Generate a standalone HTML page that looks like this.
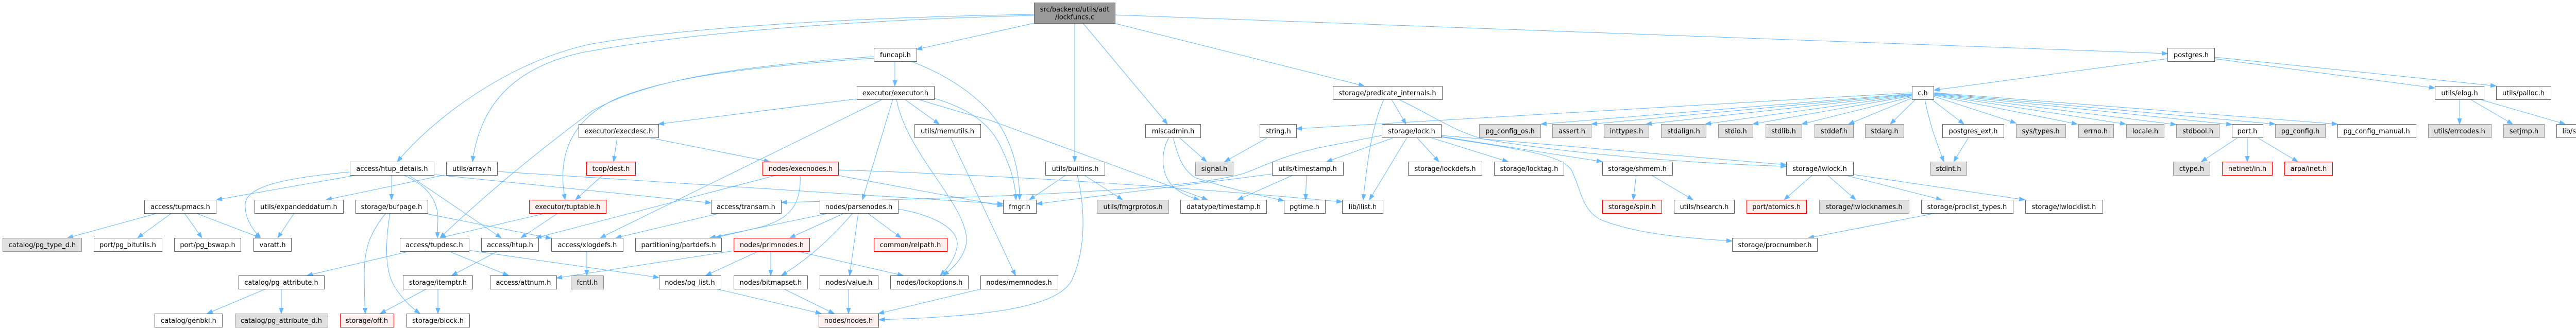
<!DOCTYPE html>
<html><head><meta charset="utf-8"><style>
html,body{margin:0;padding:0;background:#fff;}
svg{display:block;}
.n{fill:#fff;stroke:#666;stroke-width:1}
.g{fill:#e0e0e0;stroke:#999;stroke-width:1}
.r{fill:#fff0f0;stroke:#ff0000;stroke-width:1}
.o{fill:#999;stroke:#666;stroke-width:1}
text{font-family:"DejaVu Sans","Liberation Sans",sans-serif;font-size:12.9px;fill:#000;text-anchor:middle}
.E path{fill:none;stroke:#63b8ff;stroke-width:1;marker-end:url(#a)}
</style></head><body>
<svg width="5084" height="637" viewBox="0 0 5084 637" xmlns="http://www.w3.org/2000/svg">
<defs><marker id="a" markerWidth="12" markerHeight="9" refX="11" refY="4.5" orient="auto" markerUnits="userSpaceOnUse"><path d="M0,0.5 L11,4.5 L0,8.5 z" fill="#63b8ff" stroke="#63b8ff" stroke-width="1"/></marker></defs>
<g class="E">
<path d="M2164,29 L4207,104"/>
<path d="M2162,45 L2648,167"/>
<path d="M2102,45 L2266,241"/>
<path d="M2086,45 L2086,314"/>
<path d="M2007,45 L1779,96"/>
<path d="M2007,28 C1700,33 1350,50 1150,85 C1000,115 850,220 771,314"/>
<path d="M2007,30 C1600,40 1300,70 1130,102 C980,135 930,220 917,314"/>
<path d="M1737,119 L1737,167"/>
<path d="M1696,110 C1400,130 1250,160 1150,215 C1050,290 950,370 854,462"/>
<path d="M1696,113 C1450,130 1300,150 1200,190 C1110,230 1080,300 1097,388"/>
<path d="M1768,119 C1850,150 1920,200 1950,260 C1970,300 1979,340 1979,388"/>
<path d="M1663,192 L1278,241"/>
<path d="M1713,193 L1165,462"/>
<path d="M1733,193 L1674,388"/>
<path d="M1740,193 C1760,300 1880,400 1876,470 C1872,500 1850,520 1831,535"/>
<path d="M1756,193 L1823,241"/>
<path d="M1782,193 Q1870,220 1920,233 L2344,388"/>
<path d="M1810,190 C1880,210 1920,240 1940,280 C1960,320 1970,350 1972,388"/>
<path d="M1198,267 L1191,314"/>
<path d="M1258,267 L1494,314"/>
<path d="M1170,340 L1117,388"/>
<path d="M1060,414 L854,462"/>
<path d="M1083,414 L1011,462"/>
<path d="M693,340 L420,388"/>
<path d="M679,334 C560,345 480,360 476,395 C474,425 492,448 506,462"/>
<path d="M760,340 L760,388"/>
<path d="M783,340 C830,360 850,390 850,425 L849,462"/>
<path d="M793,340 L973,462"/>
<path d="M842,339 L1380,394"/>
<path d="M862,340 L633,388"/>
<path d="M965,333 L1947,396"/>
<path d="M1508,340 L1040,462"/>
<path d="M1553,340 C1556,400 1530,425 1480,440 C1440,450 1410,456 1389,462"/>
<path d="M1627,330 Q2100,345 2605,392"/>
<path d="M1623,340 L1947,400"/>
<path d="M1610,414 L1378,462"/>
<path d="M1639,414 L1533,462"/>
<path d="M1655,414 C1620,455 1580,495 1517,535"/>
<path d="M1666,414 L1649,535"/>
<path d="M1684,414 L1749,462"/>
<path d="M1743,406 C1800,415 1860,440 1858,475 C1856,500 1840,520 1825,535"/>
<path d="M1398,414 L1195,462"/>
<path d="M1425,487 L1080,540"/>
<path d="M1472,488 L1370,535"/>
<path d="M1496,488 L1496,535"/>
<path d="M1547,488 L1753,535"/>
<path d="M795,488 L596,535"/>
<path d="M871,488 L987,535"/>
<path d="M909,486 L1279,539"/>
<path d="M966,488 L877,535"/>
<path d="M1139,488 L1139,535"/>
<path d="M749,414 C720,450 707,480 707,530 C707,570 708,590 709,609"/>
<path d="M757,414 C748,470 745,530 770,563 C785,585 800,598 815,609"/>
<path d="M822,414 L1070,463"/>
<path d="M828,561 L738,609"/>
<path d="M850,561 L850,609"/>
<path d="M516,561 L402,609"/>
<path d="M546,561 L546,609"/>
<path d="M306,414 L131,462"/>
<path d="M333,414 L267,462"/>
<path d="M358,414 L392,462"/>
<path d="M380,414 L506,462"/>
<path d="M571,414 L539,462"/>
<path d="M1390,561 L1594,609"/>
<path d="M1521,561 L1619,609"/>
<path d="M1647,561 L1647,609"/>
<path d="M1905,561 L1705,609"/>
<path d="M2091,340 C2105,400 2110,480 2080,545 C2050,600 1900,615 1706,621"/>
<path d="M1845,267 L1971,535"/>
<path d="M2069,340 L1998,388"/>
<path d="M2104,340 L2179,388"/>
<path d="M2289,267 L2342,314"/>
<path d="M2269,267 C2250,300 2255,345 2280,365 C2295,377 2310,383 2328,388"/>
<path d="M2277,267 C2285,300 2295,330 2320,345 C2380,365 2440,378 2492,390"/>
<path d="M2461,267 L2377,314"/>
<path d="M2510,340 L2402,388"/>
<path d="M2536,340 L2534,388"/>
<path d="M2469,338 L2012,396"/>
<path d="M2701,193 L2729,241"/>
<path d="M2686,193 C2665,240 2655,300 2646,388"/>
<path d="M2715,193 C2790,230 2830,258 2880,270 C3050,300 3300,318 3467,323"/>
<path d="M2706,267 L2575,314"/>
<path d="M2731,267 L2658,388"/>
<path d="M2750,267 L2793,314"/>
<path d="M2776,267 L2927,314"/>
<path d="M2797,265 L3110,314"/>
<path d="M2797,263 L3467,320"/>
<path d="M2797,266 C2950,290 3030,300 3050,330 C3070,370 3070,410 3110,428 C3180,455 3280,463 3362,468"/>
<path d="M2682,263 L2560,287 C2480,305 2450,325 2410,338 C2300,370 1900,385 1517,393"/>
<path d="M3176,340 L3170,388"/>
<path d="M3205,340 L3286,388"/>
<path d="M3518,340 L3463,388"/>
<path d="M3547,340 L3602,388"/>
<path d="M3580,340 L3769,388"/>
<path d="M3597,339 L3930,388"/>
<path d="M3757,414 L3510,462"/>
<path d="M3711,180 L2516,250"/>
<path d="M3711,182 L2991,241"/>
<path d="M3711,183 L3089,241"/>
<path d="M3711,184 L3195,241"/>
<path d="M3711,185 L3310,241"/>
<path d="M3711,186 L3402,241"/>
<path d="M3711,188 L3497,241"/>
<path d="M3712,190 L3588,241"/>
<path d="M3718,193 L3669,241"/>
<path d="M3736,193 C3745,240 3760,280 3773,314"/>
<path d="M3749,193 L3812,241"/>
<path d="M3753,187 L3913,239"/>
<path d="M3753,185 L4032,241"/>
<path d="M3753,184 L4126,241"/>
<path d="M3753,183 L4224,242"/>
<path d="M3753,182 L4332,242"/>
<path d="M3753,181 L4416,241"/>
<path d="M3753,180 L4537,241"/>
<path d="M4207,114 L3754,175"/>
<path d="M4298,114 L4726,171"/>
<path d="M4298,111 L4845,167"/>
<path d="M4774,193 L4774,241"/>
<path d="M4795,193 L4877,241"/>
<path d="M4813,193 L4979,241"/>
<path d="M4344,267 L4273,314"/>
<path d="M4362,267 L4362,314"/>
<path d="M4381,267 L4460,314"/>
<path d="M3821,267 L3792,314"/>
</g>

<!-- root -->
<rect class="o" x="2007.5" y="5.5" width="157" height="40"/>
<text x="2086" y="22.5">src/backend/utils/adt</text>
<text x="2086" y="37.5">/lockfuncs.c</text>

<!-- row 1 (y=93) -->
<rect class="n" x="1696.5" y="93.5" width="83" height="26"/><text x="1738" y="111">funcapi.h</text>
<rect class="n" x="4207.5" y="93.5" width="91" height="26"/><text x="4253" y="111">postgres.h</text>

<!-- row 2 (y=167) -->
<rect class="n" x="1663.5" y="167.5" width="150" height="26"/><text x="1738" y="185">executor/executor.h</text>
<rect class="n" x="2587.5" y="167.5" width="212" height="26"/><text x="2693" y="185">storage/predicate_internals.h</text>
<rect class="n" x="3711.5" y="167.5" width="42" height="26"/><text x="3732" y="185">c.h</text>
<rect class="n" x="4726.5" y="167.5" width="95" height="26"/><text x="4774" y="185">utils/elog.h</text>
<rect class="n" x="4845.5" y="167.5" width="106" height="26"/><text x="4898" y="185">utils/palloc.h</text>

<!-- row 3 (y=241) -->
<rect class="n" x="1123.5" y="241.5" width="155" height="26"/><text x="1201" y="259">executor/execdesc.h</text>
<rect class="n" x="1775.5" y="241.5" width="128" height="26"/><text x="1839" y="259">utils/memutils.h</text>
<rect class="n" x="2223.5" y="241.5" width="107" height="26"/><text x="2277" y="259">miscadmin.h</text>
<rect class="n" x="2445.5" y="241.5" width="71" height="26"/><text x="2481" y="259">string.h</text>
<rect class="n" x="2682.5" y="241.5" width="115" height="26"/><text x="2740" y="259">storage/lock.h</text>
<rect class="g" x="2871.5" y="241.5" width="119" height="26"/><text x="2931" y="259">pg_config_os.h</text>
<rect class="g" x="3013.5" y="241.5" width="75" height="26"/><text x="3051" y="259">assert.h</text>
<rect class="g" x="3113.5" y="241.5" width="87" height="26"/><text x="3157" y="259">inttypes.h</text>
<rect class="g" x="3224.5" y="241.5" width="87" height="26"/><text x="3268" y="259">stdalign.h</text>
<rect class="g" x="3335.5" y="241.5" width="67" height="26"/><text x="3369" y="259">stdio.h</text>
<rect class="g" x="3427.5" y="241.5" width="70" height="26"/><text x="3462" y="259">stdlib.h</text>
<rect class="g" x="3522.5" y="241.5" width="75" height="26"/><text x="3560" y="259">stddef.h</text>
<rect class="g" x="3620.5" y="241.5" width="75" height="26"/><text x="3658" y="259">stdarg.h</text>
<rect class="n" x="3770.5" y="241.5" width="119" height="26"/><text x="3830" y="259">postgres_ext.h</text>
<rect class="g" x="3913.5" y="241.5" width="96" height="26"/><text x="3961" y="259">sys/types.h</text>
<rect class="g" x="4034.5" y="241.5" width="68" height="26"/><text x="4068" y="259">errno.h</text>
<rect class="g" x="4127.5" y="241.5" width="73" height="26"/><text x="4164" y="259">locale.h</text>
<rect class="g" x="4224.5" y="241.5" width="83" height="26"/><text x="4266" y="259">stdbool.h</text>
<rect class="n" x="4332.5" y="241.5" width="60" height="26"/><text x="4362" y="259">port.h</text>
<rect class="g" x="4416.5" y="241.5" width="97" height="26"/><text x="4465" y="259">pg_config.h</text>
<rect class="n" x="4537.5" y="241.5" width="152" height="26"/><text x="4613" y="259">pg_config_manual.h</text>
<rect class="g" x="4713.5" y="241.5" width="122" height="26"/><text x="4774" y="259">utils/errcodes.h</text>
<rect class="g" x="4859.5" y="241.5" width="79" height="26"/><text x="4899" y="259">setjmp.h</text>
<rect class="n" x="4962.5" y="241.5" width="116" height="26"/><text x="5020" y="259">lib/stringinfo.h</text>

<!-- row 4 (y=314) -->
<rect class="n" x="679.5" y="314.5" width="163" height="26"/><text x="761" y="332">access/htup_details.h</text>
<rect class="n" x="866.5" y="314.5" width="99" height="26"/><text x="916" y="332">utils/array.h</text>
<rect class="r" x="1138.5" y="314.5" width="95" height="26"/><text x="1186" y="332">tcop/dest.h</text>
<rect class="r" x="1480.5" y="314.5" width="147" height="26"/><text x="1554" y="332">nodes/execnodes.h</text>
<rect class="n" x="2029.5" y="314.5" width="115" height="26"/><text x="2087" y="332">utils/builtins.h</text>
<rect class="g" x="2320.5" y="314.5" width="73" height="26"/><text x="2357" y="332">signal.h</text>
<rect class="n" x="2469.5" y="314.5" width="138" height="26"/><text x="2538" y="332">utils/timestamp.h</text>
<rect class="n" x="2733.5" y="314.5" width="143" height="26"/><text x="2805" y="332">storage/lockdefs.h</text>
<rect class="n" x="2900.5" y="314.5" width="135" height="26"/><text x="2968" y="332">storage/locktag.h</text>
<rect class="n" x="3110.5" y="314.5" width="136" height="26"/><text x="3178" y="332">storage/shmem.h</text>
<rect class="n" x="3467.5" y="314.5" width="130" height="26"/><text x="3532" y="332">storage/lwlock.h</text>
<rect class="g" x="3747.5" y="314.5" width="70" height="26"/><text x="3782" y="332">stdint.h</text>
<rect class="g" x="4218.5" y="314.5" width="71" height="26"/><text x="4254" y="332">ctype.h</text>
<rect class="r" x="4313.5" y="314.5" width="97" height="26"/><text x="4362" y="332">netinet/in.h</text>
<rect class="r" x="4434.5" y="314.5" width="93" height="26"/><text x="4481" y="332">arpa/inet.h</text>

<!-- row 5 (y=388) -->
<rect class="n" x="280.5" y="388.5" width="139" height="26"/><text x="350" y="406">access/tupmacs.h</text>
<rect class="n" x="494.5" y="388.5" width="172" height="26"/><text x="580" y="406">utils/expandeddatum.h</text>
<rect class="n" x="690.5" y="388.5" width="140" height="26"/><text x="760" y="406">storage/bufpage.h</text>
<rect class="r" x="1027.5" y="388.5" width="149" height="26"/><text x="1102" y="406">executor/tuptable.h</text>
<rect class="n" x="1380.5" y="388.5" width="136" height="26"/><text x="1448" y="406">access/transam.h</text>
<rect class="n" x="1591.5" y="388.5" width="152" height="26"/><text x="1667" y="406">nodes/parsenodes.h</text>
<rect class="n" x="1947.5" y="388.5" width="64" height="26"/><text x="1979" y="406">fmgr.h</text>
<rect class="g" x="2129.5" y="388.5" width="139" height="26"/><text x="2199" y="406">utils/fmgrprotos.h</text>
<rect class="n" x="2291.5" y="388.5" width="167" height="26"/><text x="2375" y="406">datatype/timestamp.h</text>
<rect class="n" x="2492.5" y="388.5" width="80" height="26"/><text x="2532" y="406">pgtime.h</text>
<rect class="n" x="2605.5" y="388.5" width="79" height="26"/><text x="2645" y="406">lib/ilist.h</text>
<rect class="r" x="3110.5" y="388.5" width="115" height="26"/><text x="3168" y="406">storage/spin.h</text>
<rect class="n" x="3249.5" y="388.5" width="117" height="26"/><text x="3308" y="406">utils/hsearch.h</text>
<rect class="r" x="3390.5" y="388.5" width="116" height="26"/><text x="3448" y="406">port/atomics.h</text>
<rect class="g" x="3531.5" y="388.5" width="174" height="26"/><text x="3618" y="406">storage/lwlocknames.h</text>
<rect class="n" x="3729.5" y="388.5" width="178" height="26"/><text x="3818" y="406">storage/proclist_types.h</text>
<rect class="n" x="3931.5" y="388.5" width="150" height="26"/><text x="4006" y="406">storage/lwlocklist.h</text>

<!-- row 6 (y=462) -->
<rect class="g" x="5.5" y="462.5" width="153" height="26"/><text x="82" y="480">catalog/pg_type_d.h</text>
<rect class="n" x="182.5" y="462.5" width="132" height="26"/><text x="248" y="480">port/pg_bitutils.h</text>
<rect class="n" x="338.5" y="462.5" width="129" height="26"/><text x="403" y="480">port/pg_bswap.h</text>
<rect class="n" x="492.5" y="462.5" width="73" height="26"/><text x="529" y="480">varatt.h</text>
<rect class="n" x="776.5" y="462.5" width="134" height="26"/><text x="843" y="480">access/tupdesc.h</text>
<rect class="n" x="934.5" y="462.5" width="111" height="26"/><text x="990" y="480">access/htup.h</text>
<rect class="n" x="1070.5" y="462.5" width="139" height="26"/><text x="1140" y="480">access/xlogdefs.h</text>
<rect class="n" x="1233.5" y="462.5" width="167" height="26"/><text x="1317" y="480">partitioning/partdefs.h</text>
<rect class="r" x="1424.5" y="462.5" width="147" height="26"/><text x="1498" y="480">nodes/primnodes.h</text>
<rect class="r" x="1696.5" y="462.5" width="142" height="26"/><text x="1767" y="480">common/relpath.h</text>
<rect class="n" x="3362.5" y="462.5" width="165" height="26"/><text x="3445" y="480">storage/procnumber.h</text>

<!-- row 7 (y=535) -->
<rect class="n" x="463.5" y="535.5" width="166" height="26"/><text x="546" y="553">catalog/pg_attribute.h</text>
<rect class="n" x="782.5" y="535.5" width="135" height="26"/><text x="850" y="553">storage/itemptr.h</text>
<rect class="n" x="951.5" y="535.5" width="129" height="26"/><text x="1016" y="553">access/attnum.h</text>
<rect class="g" x="1108.5" y="535.5" width="63" height="26"/><text x="1140" y="553">fcntl.h</text>
<rect class="n" x="1279.5" y="535.5" width="120" height="26"/><text x="1339" y="553">nodes/pg_list.h</text>
<rect class="n" x="1424.5" y="535.5" width="143" height="26"/><text x="1496" y="553">nodes/bitmapset.h</text>
<rect class="n" x="1591.5" y="535.5" width="113" height="26"/><text x="1648" y="553">nodes/value.h</text>
<rect class="n" x="1728.5" y="535.5" width="151" height="26"/><text x="1804" y="553">nodes/lockoptions.h</text>
<rect class="n" x="1903.5" y="535.5" width="150" height="26"/><text x="1978" y="553">nodes/memnodes.h</text>

<!-- row 8 (y=609) -->
<rect class="n" x="300.5" y="609.5" width="131" height="26"/><text x="366" y="627">catalog/genbki.h</text>
<rect class="g" x="456.5" y="609.5" width="180" height="26"/><text x="546" y="627">catalog/pg_attribute_d.h</text>
<rect class="r" x="660.5" y="609.5" width="104" height="26"/><text x="712" y="627">storage/off.h</text>
<rect class="n" x="789.5" y="609.5" width="122" height="26"/><text x="850" y="627">storage/block.h</text>
<rect class="r" x="1589.5" y="609.5" width="116" height="26"/><text x="1647" y="627">nodes/nodes.h</text>
</svg>
</body></html>
